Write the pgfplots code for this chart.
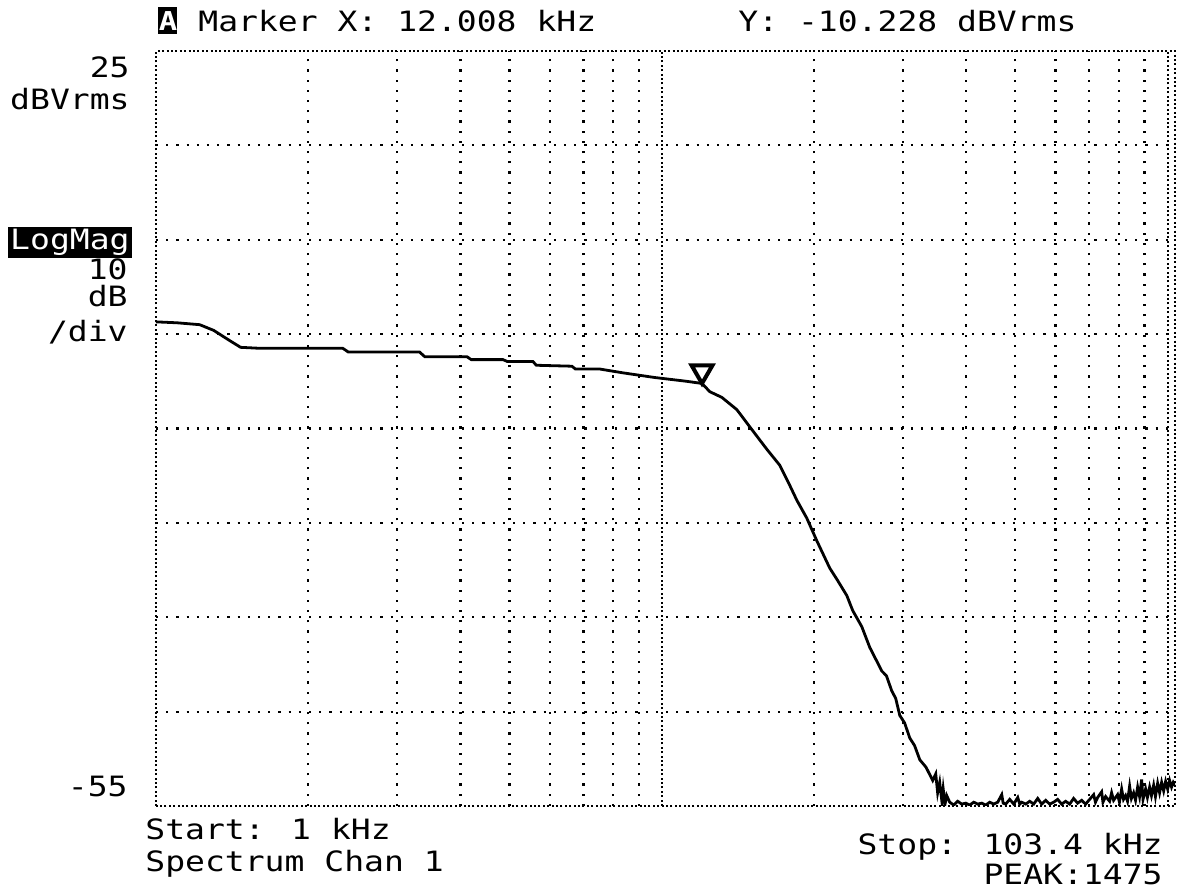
\documentclass[border=0pt]{standalone}
\usepackage{pgfplots}
\pgfplotsset{compat=1.18}
\usepackage{pgfplotstable}
\usepackage{fontspec}
\newfontfamily\hp[FakeStretch=1.18]{DejaVu Sans Mono}

\pgfplotstableread{
f db
1.00 -3.7
1.10 -3.8
1.22 -4.0
1.30 -4.6
1.40 -5.7
1.47 -6.4
1.60 -6.5
2.00 -6.5
2.34 -6.5
2.40 -6.9
3.32 -6.9
3.40 -7.4
4.12 -7.4
4.20 -7.7
4.85 -7.7
4.95 -7.9
5.56 -7.9
5.65 -8.3
6.64 -8.4
6.75 -8.7
7.54 -8.7
8.37 -9.1
9.69 -9.6
11.20 -10.0
12.008 -10.23
12.44 -11.1
13.14 -11.7
14.07 -13.0
15.06 -15.1
16.13 -17.2
17.11 -18.9
17.75 -20.6
18.49 -22.6
19.35 -24.5
20.25 -26.9
21.48 -29.8
22.20 -31.0
23.21 -32.7
23.85 -34.3
24.85 -36.0
25.77 -38.2
26.40 -39.3
27.22 -40.7
27.80 -41.2
28.48 -42.8
29.00 -43.6
29.54 -45.4
30.20 -46.2
30.92 -47.8
31.60 -48.6
32.36 -50.1
33.30 -50.9
34.32 -52.3
34.80 -51.6
35.10 -53.6
35.43 -52.5
35.80 -54.6
36.00 -53.2
36.30 -54.8
36.58 -53.9
37.09 -54.6
37.77 -54.9
38.46 -54.5
39.17 -54.8
39.89 -54.7
40.62 -54.9
41.37 -54.6
42.13 -54.8
42.90 -54.7
43.69 -54.9
44.49 -54.6
45.31 -54.8
46.14 -54.6
46.99 -53.8
47.30 -54.7
47.85 -54.8
48.73 -54.3
49.63 -54.8
50.54 -54.1
51.00 -54.8
51.47 -54.6
52.41 -54.8
53.37 -54.5
54.35 -54.8
55.35 -54.2
56.36 -54.8
57.40 -54.4
58.45 -54.8
59.52 -54.6
60.61 -54.3
61.72 -54.8
62.86 -54.5
64.01 -54.8
65.18 -54.2
66.38 -54.7
67.61 -54.4
68.85 -54.8
70.11 -54.3
71.41 -53.8
72.00 -54.6
72.72 -54.1
74.05 -53.5
74.50 -54.6
75.41 -54.0
76.80 -54.5
77.50 -53.6
78.21 -54.4
79.64 -53.8
80.30 -54.6
81.10 -53.2
81.80 -54.3
82.59 -53.9
83.30 -54.5
84.11 -52.9
84.80 -54.2
85.65 -53.6
86.40 -54.4
87.23 -53.0
88.00 -54.0
88.83 -52.2
89.40 -54.3
90.46 -53.2
91.20 -54.1
92.12 -53.0
92.90 -53.9
93.82 -52.8
94.60 -54.0
95.54 -52.6
96.40 -53.6
97.30 -52.5
98.20 -53.4
99.08 -52.4
100.00 -53.2
100.90 -52.3
101.80 -53.0
102.60 -52.5
103.40 -52.8
}\curve

\begin{document}
\begin{tikzpicture}
\useasboundingbox (-78pt,-43pt) rectangle (512pt,403pt);
\begin{axis}[
  scale only axis,
  width=509.5pt, height=377.5pt,
  xmode=log,
  xmin=1, xmax=103.4,
  ymin=-55, ymax=25,
  xtick={10,100},
  minor xtick={2,3,4,5,6,7,8,9,20,30,40,50,60,70,80,90},
  ytick={-45,-35,-25,-15,-5,5,15},
  xticklabels={}, yticklabels={},
  major tick length=0pt, minor tick length=0pt,
  xmajorgrids, xminorgrids, ymajorgrids,
  log basis x=10,
  grid style={black, line width=1.1pt, dash pattern=on 1.1pt off 4pt},
  minor grid style={black, line width=1.1pt, dash pattern=on 1.1pt off 4pt},
  major x grid style={black, line width=1.1pt, dash pattern=on 1pt off 1.2pt},
  axis line style={black, line width=1.1pt, dash pattern=on 1pt off 1.2pt},
  clip=true,
]
\addplot[black, line width=1.4pt] table[x=f, y=db] {\curve};
\addplot[only marks, mark=triangle, mark size=6pt,
  mark options={black, line width=2pt, yshift=6pt, rotate=180}]
  coordinates {(12.008,-10.228)};
\end{axis}
\begin{scope}[x=1pt, y=1pt, every node/.style={inner sep=0pt, font=\hp\fontsize{14}{16}\selectfont}]
\node[fill=black, text=white, minimum width=9.5pt, minimum height=13.5pt, font=\hp\fontsize{13}{14}\selectfont\bfseries] at (6,392.5) {A};
\node[anchor=base west] at (21,387) {Marker X: 12.008 kHz};
\node[anchor=base west] at (291,387) {Y: -10.228 dBVrms};
\node[anchor=base east] at (-13,364) {25};
\node[anchor=base east] at (-13,348) {dBVrms};
\node[anchor=east, fill=black, text=white, minimum height=15.5pt, inner xsep=1pt] at (-12,281.75) {LogMag};
\node[anchor=base east] at (-14,263) {10};
\node[anchor=base east] at (-14,249.5) {dB};
\node[anchor=base east] at (-14,232) {/div};
\node[anchor=base east] at (-14,4.5) {-55};
\node[anchor=base west] at (-5.5,-17) {Start: 1 kHz};
\node[anchor=base west] at (-5.5,-33) {Spectrum Chan 1};
\node[anchor=base east] at (503.5,-24.5) {Stop: 103.4 kHz};
\node[anchor=base east] at (503.5,-39.5) {PEAK:1475};
\end{scope}
\end{tikzpicture}
\end{document}
